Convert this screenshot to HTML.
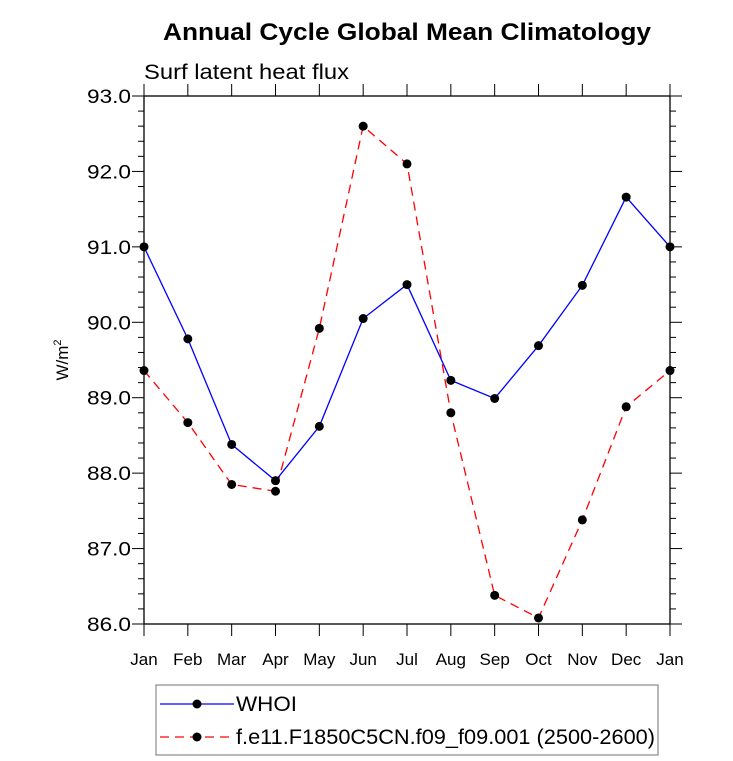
<!DOCTYPE html>
<html><head><meta charset="utf-8"><style>body{margin:0;background:#fff}svg{display:block}text{font-family:"Liberation Sans",Arial,sans-serif}</style></head>
<body>
<svg id="chart" width="733" height="761">
<text x="163" y="40" font-size="24" font-weight="bold" textLength="488" lengthAdjust="spacingAndGlyphs">Annual Cycle Global Mean Climatology</text>
<text x="144" y="79" font-size="21" textLength="205" lengthAdjust="spacingAndGlyphs">Surf latent heat flux</text>
<text transform="translate(68,360) rotate(-90)" text-anchor="middle" font-size="17">W/m<tspan dy="-7" font-size="11">2</tspan></text>
<g id="axes"></g><g id="series"></g>
<rect x="156" y="685" width="502" height="70" fill="none" stroke="#888" stroke-width="1.2"/>
<g>
<line x1="160" y1="704" x2="234" y2="704" stroke="#0000ff" stroke-width="1.3"/><circle cx="197" cy="704" r="4.5"/>
<text x="236" y="711" font-size="21" textLength="61" lengthAdjust="spacingAndGlyphs">WHOI</text></g>
<g>
<line x1="160" y1="737" x2="234" y2="737" stroke="#ff0000" stroke-width="1.3" stroke-dasharray="9,6"/><circle cx="197" cy="737" r="4.5"/>
<text x="236" y="744" font-size="21" textLength="419" lengthAdjust="spacingAndGlyphs">f.e11.F1850C5CN.f09_f09.001 (2500-2600)</text></g>
</svg>
<script>
const months=["Jan","Feb","Mar","Apr","May","Jun","Jul","Aug","Sep","Oct","Nov","Dec","Jan"];
const whoi=[91.0,89.78,88.38,87.9,88.62,90.05,90.5,89.23,88.99,89.69,90.49,91.66,91.0];
const model=[89.36,88.67,87.85,87.76,89.92,92.6,92.1,88.8,86.38,86.08,87.38,88.88,89.36];
const yTicks=[86,87,88,89,90,91,92,93];
const X0=144,X1=670,Y0=624,Y1=96,YMIN=86,YMAX=93;
const xs=i=>X0+(X1-X0)*i/(months.length-1);
const ys=v=>Y0-(Y0-Y1)*(v-YMIN)/(YMAX-YMIN);
const NS="http://www.w3.org/2000/svg";
function mk(tag,attrs,parent){const e=document.createElementNS(NS,tag);for(const k in attrs)e.setAttribute(k,attrs[k]);parent.appendChild(e);return e;}
const ax=document.getElementById('axes');
const frame=mk('rect',{x:X0,y:Y1,width:X1-X0,height:Y0-Y1,fill:'none',stroke:'#000','stroke-width':1.3},ax);


for(let v=YMIN;v<=YMAX+1e-6;v+=0.2){const y=ys(v);const major=Math.abs(v-Math.round(v))<1e-6;const L=major?12:6;
mk('line',{x1:X0-L,y1:y,x2:X0,y2:y,stroke:'#000','stroke-width':1},ax);
mk('line',{x1:X1,y1:y,x2:X1+L,y2:y,stroke:'#000','stroke-width':1},ax);}
yTicks.forEach(v=>{const t=mk('text',{x:X0-13,y:ys(v)+7,'text-anchor':'end','font-size':19,textLength:44,lengthAdjust:'spacingAndGlyphs'},ax);t.textContent=v.toFixed(1);

});
months.forEach((m,i)=>{const x=xs(i);
mk('line',{x1:x,y1:Y0,x2:x,y2:Y0+12,stroke:'#000','stroke-width':1},ax);
mk('line',{x1:x,y1:Y1-12,x2:x,y2:Y1,stroke:'#000','stroke-width':1},ax);
const t=mk('text',{x:x,y:Y0+41,'text-anchor':'middle','font-size':17},ax);t.textContent=m;

});
const sg=document.getElementById('series');
function series(vals,color,dash,name){const g=mk('g',{},sg);


mk('polyline',{points:vals.map((v,i)=>xs(i)+','+ys(v)).join(' '),fill:'none',stroke:color,'stroke-width':1.3,'stroke-dasharray':dash},g);
vals.forEach((v,i)=>{const c=mk('circle',{cx:xs(i),cy:ys(v),r:4.5,fill:'#000'},g);

});}
series(model,'#ff0000','9,6','model-series');
series(whoi,'#0000ff','none','whoi-series');
</script>
</body></html>
